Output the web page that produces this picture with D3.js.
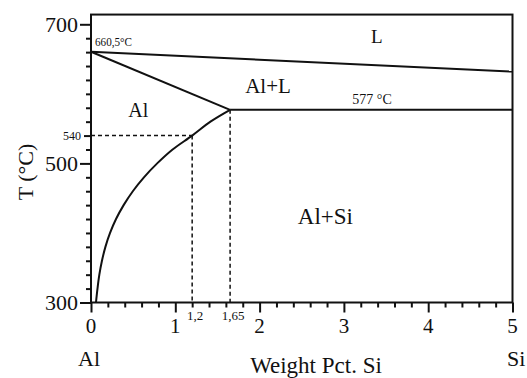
<!DOCTYPE html>
<html>
<head>
<meta charset="utf-8">
<script src="https://cdn.jsdelivr.net/npm/d3@7"></script>
<style>
  html, body { margin: 0; padding: 0; background: #fff; }
  svg { display: block; }
</style>
</head>
<body>
<svg id="chart" width="527" height="378"></svg>
<script>
// ---- data ----
const xMajorTicks = [0, 1, 2, 3, 4, 5];
const yMajorTicks = [300, 500, 700];
const markedTemp = 540;          // dashed guide temperature
const markedComps = [1.2, 1.65]; // dashed guide compositions
const markedCompLabels = ["1,2", "1,65"];
const meltingPointAl = 660.5;
const eutecticTemp = 577;
// liquidus (upper line) : composition, temperature
const liquidus = [[0, 660.5], [5, 632]];
// solidus (Al -> eutectic point)
const solidus = [[0, 660.5], [1.65, 577]];
// eutectic isotherm
const eutectic = [[1.65, 577], [5, 577]];
// solvus curve of Si in Al
const solvus = [
  [0.059, 300], [0.077, 320], [0.099, 340], [0.130, 360], [0.171, 380],
  [0.226, 400], [0.297, 420], [0.387, 440], [0.496, 460], [0.628, 480],
  [0.785, 500], [0.968, 520], [1.2, 540], [1.417, 560], [1.65, 577]
];
const regionLabels = [
  { text: "L", x: 3.39, t: 672.5, size: 19 },
  { text: "Al+L", x: 2.1, t: 601.5, size: 21 },
  { text: "Al", x: 0.56, t: 567, size: 20 },
  { text: "Al+Si", x: 2.78, t: 413, size: 23 }
];

// ---- layout ----
const FONT = '"Liberation Serif", "Times New Roman", Times, "DejaVu Serif", serif';
const svg = d3.select("#chart").style("font-family", FONT);
const x = d3.scaleLinear().domain([0, 5]).range([91, 512.5]);
const y = d3.scaleLinear().domain([300, 700]).range([302.5, 24.3]);
const tTop = 714;
const ink = "#111";

function txt(sel) {
  return sel.attr("font-family", FONT).style("font-family", FONT).attr("fill", ink);
}

// minor ticks
const xMinor = d3.range(0, 5.0001, 0.2).map(v => +v.toFixed(2)).filter(v => !xMajorTicks.includes(v));
const yMinor = d3.range(300, 701, 20).filter(v => !yMajorTicks.includes(v) && v !== markedTemp);

const gx = svg.append("g").attr("transform", `translate(0,${y(300)})`);
gx.call(d3.axisBottom(x).tickValues(xMinor).tickSize(5).tickFormat(""));
gx.append("g").call(d3.axisBottom(x).tickValues(xMajorTicks).tickSize(10).tickFormat(""));
gx.selectAll(".domain").remove();
gx.selectAll("line").attr("stroke", ink).attr("stroke-width", 2);

const gy = svg.append("g").attr("transform", `translate(${x(0)},0)`);
gy.call(d3.axisLeft(y).tickValues(yMinor).tickSize(5).tickFormat(""));
gy.append("g").call(d3.axisLeft(y).tickValues(yMajorTicks).tickSize(11).tickFormat(""));
gy.append("g").call(d3.axisLeft(y).tickValues([markedTemp]).tickSize(7).tickFormat(""));
gy.selectAll(".domain").remove();
gy.selectAll("line").attr("stroke", ink).attr("stroke-width", 2);

// tick labels
txt(svg.selectAll(".ylab").data(yMajorTicks).join("text")
  .attr("x", x(0) - 13).attr("y", d => y(d)).attr("dy", "0.34em")
  .attr("text-anchor", "end").attr("font-size", 22).text(d => d));
txt(svg.append("text").attr("x", x(0) - 10).attr("y", y(markedTemp)).attr("dy", "0.34em")
  .attr("text-anchor", "end").attr("font-size", 12).text(markedTemp));
txt(svg.selectAll(".xlab").data(xMajorTicks).join("text")
  .attr("x", d => x(d)).attr("y", 333)
  .attr("text-anchor", "middle").attr("font-size", 21).text(d => d));
txt(svg.selectAll(".xmark").data(markedComps).join("text")
  .attr("x", d => x(d) + 3).attr("y", 320)
  .attr("text-anchor", "middle").attr("font-size", 13)
  .text((d, i) => markedCompLabels[i]));

// frame
svg.append("rect")
  .attr("x", x(0)).attr("y", y(tTop))
  .attr("width", x(5) - x(0)).attr("height", y(300) - y(tTop))
  .attr("fill", "none").attr("stroke", ink).attr("stroke-width", 2);

// dashed guides
const dash = "4,3";
const guides = [
  [[0, markedTemp], [markedComps[0], markedTemp]],
  [[markedComps[0], markedTemp], [markedComps[0], 300]],
  [[markedComps[1], eutecticTemp], [markedComps[1], 300]]
];
const straight = d3.line().x(d => x(d[0])).y(d => y(d[1]));
guides.forEach(g => {
  svg.append("path").attr("d", straight(g))
    .attr("stroke", ink).attr("stroke-width", 1.5).attr("stroke-dasharray", dash).attr("fill", "none");
});

// phase lines
[liquidus, solidus, eutectic].forEach(p => {
  svg.append("path").attr("d", straight(p)).attr("fill", "none")
    .attr("stroke", ink).attr("stroke-width", 2);
});
const smooth = d3.line().x(d => x(d[0])).y(d => y(d[1])).curve(d3.curveCatmullRom.alpha(0.5));
svg.append("path").attr("d", smooth(solvus)).attr("fill", "none")
  .attr("stroke", ink).attr("stroke-width", 2);

// annotations
txt(svg.append("text").attr("x", x(0) + 4).attr("y", 46)
  .attr("font-size", 13).attr("textLength", 37).attr("lengthAdjust", "spacingAndGlyphs")
  .text(meltingPointAl.toString().replace(".", ",") + "°C"));
txt(svg.append("text").attr("x", 372).attr("y", 103.5).attr("text-anchor", "middle")
  .attr("font-size", 14).text(eutecticTemp + " °C"));

txt(svg.selectAll(".region").data(regionLabels).join("text")
  .attr("x", d => x(d.x)).attr("y", d => y(d.t))
  .attr("text-anchor", "middle").attr("font-size", d => d.size).text(d => d.text));

// axis titles
txt(svg.append("text").attr("transform", "translate(33,172) rotate(-90)")
  .attr("text-anchor", "middle").attr("font-size", 22).text("T (°C)"));
txt(svg.append("text").attr("x", 316).attr("y", 373).attr("text-anchor", "middle")
  .attr("font-size", 23).text("Weight Pct. Si"));
txt(svg.append("text").attr("x", 78).attr("y", 366).attr("font-size", 22).text("Al"));
txt(svg.append("text").attr("x", 507).attr("y", 366).attr("font-size", 22).text("Si"));
</script>
</body>
</html>
